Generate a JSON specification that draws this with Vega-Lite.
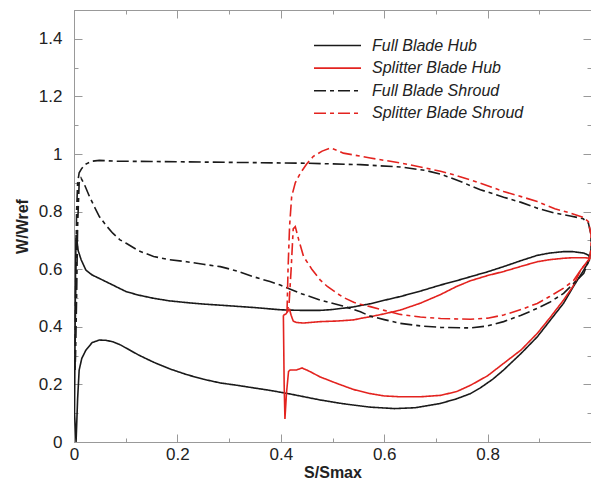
{
"$schema": "https://vega.github.io/schema/vega-lite/v6.json",
"width": 517, "height": 432,
"autosize": {"type": "none"},
"padding": {"left": 74, "top": 10, "right": 0, "bottom": 46},
"background": "white",
"config": {
  "view": {"stroke": "#999", "strokeWidth": 1},
  "axis": {"labelFont": "Liberation Sans", "labelFontSize": 17, "labelColor": "#222", "titleFont": "Liberation Sans", "titleFontSize": 16, "titleFontWeight": "bold", "titleColor": "#222", "domainColor": "#999", "tickColor": "#999", "grid": false, "format": "~g"},
  "legend": {"orient": "none", "legendX": 253, "legendY": 25, "padding": 0, "title": null, "symbolType": "M-2.5,0H2.5", "symbolSize": 353, "symbolStrokeWidth": 1.6, "labelFont": "Liberation Sans", "labelFontSize": 16, "labelFontStyle": "italic", "labelColor": "#222", "labelOffset": 24, "rowPadding": 3.6, "labelLimit": 400}
},
"data": {"values": [
{"s":"Full Blade Hub","k":1,"x":0.004,"y":0.0},
{"s":"Full Blade Hub","k":2,"x":0.007,"y":0.15},
{"s":"Full Blade Hub","k":3,"x":0.010,"y":0.25},
{"s":"Full Blade Hub","k":4,"x":0.015,"y":0.29},
{"s":"Full Blade Hub","k":5,"x":0.023,"y":0.319},
{"s":"Full Blade Hub","k":6,"x":0.035,"y":0.345},
{"s":"Full Blade Hub","k":7,"x":0.049,"y":0.354},
{"s":"Full Blade Hub","k":8,"x":0.062,"y":0.353},
{"s":"Full Blade Hub","k":9,"x":0.075,"y":0.348},
{"s":"Full Blade Hub","k":10,"x":0.089,"y":0.338},
{"s":"Full Blade Hub","k":11,"x":0.101,"y":0.326},
{"s":"Full Blade Hub","k":12,"x":0.125,"y":0.302},
{"s":"Full Blade Hub","k":13,"x":0.154,"y":0.277},
{"s":"Full Blade Hub","k":14,"x":0.185,"y":0.254},
{"s":"Full Blade Hub","k":15,"x":0.218,"y":0.234},
{"s":"Full Blade Hub","k":16,"x":0.25,"y":0.218},
{"s":"Full Blade Hub","k":17,"x":0.283,"y":0.205},
{"s":"Full Blade Hub","k":18,"x":0.315,"y":0.197},
{"s":"Full Blade Hub","k":19,"x":0.347,"y":0.188},
{"s":"Full Blade Hub","k":20,"x":0.38,"y":0.179},
{"s":"Full Blade Hub","k":21,"x":0.42,"y":0.166},
{"s":"Full Blade Hub","k":22,"x":0.476,"y":0.146},
{"s":"Full Blade Hub","k":23,"x":0.52,"y":0.133},
{"s":"Full Blade Hub","k":24,"x":0.573,"y":0.121},
{"s":"Full Blade Hub","k":25,"x":0.62,"y":0.116},
{"s":"Full Blade Hub","k":26,"x":0.66,"y":0.119},
{"s":"Full Blade Hub","k":27,"x":0.709,"y":0.134},
{"s":"Full Blade Hub","k":28,"x":0.74,"y":0.15},
{"s":"Full Blade Hub","k":29,"x":0.767,"y":0.168},
{"s":"Full Blade Hub","k":30,"x":0.786,"y":0.188},
{"s":"Full Blade Hub","k":31,"x":0.81,"y":0.218},
{"s":"Full Blade Hub","k":32,"x":0.831,"y":0.25},
{"s":"Full Blade Hub","k":33,"x":0.865,"y":0.308},
{"s":"Full Blade Hub","k":34,"x":0.896,"y":0.365},
{"s":"Full Blade Hub","k":35,"x":0.92,"y":0.42},
{"s":"Full Blade Hub","k":36,"x":0.947,"y":0.482},
{"s":"Full Blade Hub","k":37,"x":0.966,"y":0.54},
{"s":"Full Blade Hub","k":38,"x":0.986,"y":0.597},
{"s":"Full Blade Hub","k":39,"x":0.997,"y":0.632},
{"s":"Full Blade Hub","k":40,"x":0.996,"y":0.648},
{"s":"Full Blade Hub","k":41,"x":0.986,"y":0.656},
{"s":"Full Blade Hub","k":42,"x":0.965,"y":0.661},
{"s":"Full Blade Hub","k":43,"x":0.947,"y":0.661},
{"s":"Full Blade Hub","k":44,"x":0.92,"y":0.656},
{"s":"Full Blade Hub","k":45,"x":0.896,"y":0.648},
{"s":"Full Blade Hub","k":46,"x":0.865,"y":0.63},
{"s":"Full Blade Hub","k":47,"x":0.831,"y":0.609},
{"s":"Full Blade Hub","k":48,"x":0.8,"y":0.591},
{"s":"Full Blade Hub","k":49,"x":0.767,"y":0.574},
{"s":"Full Blade Hub","k":50,"x":0.74,"y":0.56},
{"s":"Full Blade Hub","k":51,"x":0.709,"y":0.545},
{"s":"Full Blade Hub","k":52,"x":0.67,"y":0.524},
{"s":"Full Blade Hub","k":53,"x":0.631,"y":0.505},
{"s":"Full Blade Hub","k":54,"x":0.6,"y":0.492},
{"s":"Full Blade Hub","k":55,"x":0.573,"y":0.48},
{"s":"Full Blade Hub","k":56,"x":0.54,"y":0.469},
{"s":"Full Blade Hub","k":57,"x":0.5,"y":0.46},
{"s":"Full Blade Hub","k":58,"x":0.476,"y":0.457},
{"s":"Full Blade Hub","k":59,"x":0.44,"y":0.457},
{"s":"Full Blade Hub","k":60,"x":0.4,"y":0.459},
{"s":"Full Blade Hub","k":61,"x":0.347,"y":0.467},
{"s":"Full Blade Hub","k":62,"x":0.3,"y":0.473},
{"s":"Full Blade Hub","k":63,"x":0.25,"y":0.479},
{"s":"Full Blade Hub","k":64,"x":0.218,"y":0.484},
{"s":"Full Blade Hub","k":65,"x":0.185,"y":0.49},
{"s":"Full Blade Hub","k":66,"x":0.154,"y":0.499},
{"s":"Full Blade Hub","k":67,"x":0.125,"y":0.51},
{"s":"Full Blade Hub","k":68,"x":0.101,"y":0.522},
{"s":"Full Blade Hub","k":69,"x":0.075,"y":0.545},
{"s":"Full Blade Hub","k":70,"x":0.049,"y":0.568},
{"s":"Full Blade Hub","k":71,"x":0.035,"y":0.58},
{"s":"Full Blade Hub","k":72,"x":0.023,"y":0.597},
{"s":"Full Blade Hub","k":73,"x":0.014,"y":0.632},
{"s":"Full Blade Hub","k":74,"x":0.008,"y":0.665},
{"s":"Full Blade Hub","k":75,"x":0.005,"y":0.71},
{"s":"Full Blade Hub","k":76,"x":0.004,"y":0.72},
{"s":"Full Blade Hub","k":77,"x":0.003,"y":0.6},
{"s":"Full Blade Hub","k":78,"x":0.002,"y":0.35},
{"s":"Full Blade Hub","k":79,"x":0.001,"y":0.1},
{"s":"Full Blade Hub","k":80,"x":0.004,"y":0.0},
{"s":"Splitter Blade Hub","k":1,"x":0.405,"y":0.44},
{"s":"Splitter Blade Hub","k":2,"x":0.4065,"y":0.2},
{"s":"Splitter Blade Hub","k":3,"x":0.408,"y":0.08},
{"s":"Splitter Blade Hub","k":4,"x":0.411,"y":0.17},
{"s":"Splitter Blade Hub","k":5,"x":0.415,"y":0.245},
{"s":"Splitter Blade Hub","k":6,"x":0.418,"y":0.25},
{"s":"Splitter Blade Hub","k":7,"x":0.43,"y":0.25},
{"s":"Splitter Blade Hub","k":8,"x":0.441,"y":0.257},
{"s":"Splitter Blade Hub","k":9,"x":0.45,"y":0.25},
{"s":"Splitter Blade Hub","k":10,"x":0.457,"y":0.244},
{"s":"Splitter Blade Hub","k":11,"x":0.476,"y":0.226},
{"s":"Splitter Blade Hub","k":12,"x":0.509,"y":0.203},
{"s":"Splitter Blade Hub","k":13,"x":0.541,"y":0.182},
{"s":"Splitter Blade Hub","k":14,"x":0.573,"y":0.168},
{"s":"Splitter Blade Hub","k":15,"x":0.6,"y":0.16},
{"s":"Splitter Blade Hub","k":16,"x":0.631,"y":0.157},
{"s":"Splitter Blade Hub","k":17,"x":0.67,"y":0.157},
{"s":"Splitter Blade Hub","k":18,"x":0.709,"y":0.162},
{"s":"Splitter Blade Hub","k":19,"x":0.74,"y":0.175},
{"s":"Splitter Blade Hub","k":20,"x":0.767,"y":0.197},
{"s":"Splitter Blade Hub","k":21,"x":0.8,"y":0.23},
{"s":"Splitter Blade Hub","k":22,"x":0.831,"y":0.273},
{"s":"Splitter Blade Hub","k":23,"x":0.865,"y":0.32},
{"s":"Splitter Blade Hub","k":24,"x":0.896,"y":0.377},
{"s":"Splitter Blade Hub","k":25,"x":0.92,"y":0.43},
{"s":"Splitter Blade Hub","k":26,"x":0.947,"y":0.493},
{"s":"Splitter Blade Hub","k":27,"x":0.965,"y":0.54},
{"s":"Splitter Blade Hub","k":28,"x":0.98,"y":0.597},
{"s":"Splitter Blade Hub","k":29,"x":0.992,"y":0.625},
{"s":"Splitter Blade Hub","k":30,"x":0.998,"y":0.638},
{"s":"Splitter Blade Hub","k":31,"x":0.986,"y":0.64},
{"s":"Splitter Blade Hub","k":32,"x":0.965,"y":0.64},
{"s":"Splitter Blade Hub","k":33,"x":0.947,"y":0.638},
{"s":"Splitter Blade Hub","k":34,"x":0.92,"y":0.633},
{"s":"Splitter Blade Hub","k":35,"x":0.896,"y":0.626},
{"s":"Splitter Blade Hub","k":36,"x":0.865,"y":0.61},
{"s":"Splitter Blade Hub","k":37,"x":0.831,"y":0.592},
{"s":"Splitter Blade Hub","k":38,"x":0.8,"y":0.578},
{"s":"Splitter Blade Hub","k":39,"x":0.767,"y":0.56},
{"s":"Splitter Blade Hub","k":40,"x":0.74,"y":0.54},
{"s":"Splitter Blade Hub","k":41,"x":0.709,"y":0.512},
{"s":"Splitter Blade Hub","k":42,"x":0.67,"y":0.482},
{"s":"Splitter Blade Hub","k":43,"x":0.631,"y":0.458},
{"s":"Splitter Blade Hub","k":44,"x":0.6,"y":0.445},
{"s":"Splitter Blade Hub","k":45,"x":0.573,"y":0.435},
{"s":"Splitter Blade Hub","k":46,"x":0.554,"y":0.429},
{"s":"Splitter Blade Hub","k":47,"x":0.541,"y":0.424},
{"s":"Splitter Blade Hub","k":48,"x":0.509,"y":0.42},
{"s":"Splitter Blade Hub","k":49,"x":0.476,"y":0.418},
{"s":"Splitter Blade Hub","k":50,"x":0.444,"y":0.413},
{"s":"Splitter Blade Hub","k":51,"x":0.43,"y":0.415},
{"s":"Splitter Blade Hub","k":52,"x":0.424,"y":0.42},
{"s":"Splitter Blade Hub","k":53,"x":0.42,"y":0.44},
{"s":"Splitter Blade Hub","k":54,"x":0.417,"y":0.46},
{"s":"Splitter Blade Hub","k":55,"x":0.414,"y":0.455},
{"s":"Splitter Blade Hub","k":56,"x":0.41,"y":0.445},
{"s":"Splitter Blade Hub","k":57,"x":0.405,"y":0.44},
{"s":"Full Blade Shroud","k":1,"x":0.002,"y":0.25},
{"s":"Full Blade Shroud","k":2,"x":0.003,"y":0.5},
{"s":"Full Blade Shroud","k":3,"x":0.005,"y":0.8},
{"s":"Full Blade Shroud","k":4,"x":0.007,"y":0.9},
{"s":"Full Blade Shroud","k":5,"x":0.01,"y":0.935},
{"s":"Full Blade Shroud","k":6,"x":0.015,"y":0.95},
{"s":"Full Blade Shroud","k":7,"x":0.023,"y":0.965},
{"s":"Full Blade Shroud","k":8,"x":0.035,"y":0.975},
{"s":"Full Blade Shroud","k":9,"x":0.049,"y":0.978},
{"s":"Full Blade Shroud","k":10,"x":0.08,"y":0.975},
{"s":"Full Blade Shroud","k":11,"x":0.15,"y":0.974},
{"s":"Full Blade Shroud","k":12,"x":0.25,"y":0.972},
{"s":"Full Blade Shroud","k":13,"x":0.35,"y":0.97},
{"s":"Full Blade Shroud","k":14,"x":0.45,"y":0.968},
{"s":"Full Blade Shroud","k":15,"x":0.554,"y":0.963},
{"s":"Full Blade Shroud","k":16,"x":0.631,"y":0.955},
{"s":"Full Blade Shroud","k":17,"x":0.68,"y":0.943},
{"s":"Full Blade Shroud","k":18,"x":0.709,"y":0.93},
{"s":"Full Blade Shroud","k":19,"x":0.74,"y":0.91},
{"s":"Full Blade Shroud","k":20,"x":0.767,"y":0.89},
{"s":"Full Blade Shroud","k":21,"x":0.786,"y":0.876},
{"s":"Full Blade Shroud","k":22,"x":0.831,"y":0.85},
{"s":"Full Blade Shroud","k":23,"x":0.865,"y":0.832},
{"s":"Full Blade Shroud","k":24,"x":0.896,"y":0.812},
{"s":"Full Blade Shroud","k":25,"x":0.93,"y":0.795},
{"s":"Full Blade Shroud","k":26,"x":0.96,"y":0.785},
{"s":"Full Blade Shroud","k":27,"x":0.985,"y":0.775},
{"s":"Full Blade Shroud","k":28,"x":0.995,"y":0.76},
{"s":"Full Blade Shroud","k":29,"x":1.0,"y":0.72},
{"s":"Full Blade Shroud","k":30,"x":1.0,"y":0.67},
{"s":"Full Blade Shroud","k":31,"x":0.997,"y":0.635},
{"s":"Full Blade Shroud","k":32,"x":0.986,"y":0.586},
{"s":"Full Blade Shroud","k":33,"x":0.966,"y":0.55},
{"s":"Full Blade Shroud","k":34,"x":0.947,"y":0.516},
{"s":"Full Blade Shroud","k":35,"x":0.92,"y":0.485},
{"s":"Full Blade Shroud","k":36,"x":0.896,"y":0.464},
{"s":"Full Blade Shroud","k":37,"x":0.865,"y":0.44},
{"s":"Full Blade Shroud","k":38,"x":0.831,"y":0.418},
{"s":"Full Blade Shroud","k":39,"x":0.8,"y":0.403},
{"s":"Full Blade Shroud","k":40,"x":0.767,"y":0.396},
{"s":"Full Blade Shroud","k":41,"x":0.709,"y":0.398},
{"s":"Full Blade Shroud","k":42,"x":0.67,"y":0.403},
{"s":"Full Blade Shroud","k":43,"x":0.631,"y":0.412},
{"s":"Full Blade Shroud","k":44,"x":0.6,"y":0.425},
{"s":"Full Blade Shroud","k":45,"x":0.573,"y":0.437},
{"s":"Full Blade Shroud","k":46,"x":0.554,"y":0.452},
{"s":"Full Blade Shroud","k":47,"x":0.52,"y":0.472},
{"s":"Full Blade Shroud","k":48,"x":0.476,"y":0.493},
{"s":"Full Blade Shroud","k":49,"x":0.44,"y":0.515},
{"s":"Full Blade Shroud","k":50,"x":0.399,"y":0.545},
{"s":"Full Blade Shroud","k":51,"x":0.379,"y":0.557},
{"s":"Full Blade Shroud","k":52,"x":0.347,"y":0.574},
{"s":"Full Blade Shroud","k":53,"x":0.315,"y":0.594},
{"s":"Full Blade Shroud","k":54,"x":0.283,"y":0.609},
{"s":"Full Blade Shroud","k":55,"x":0.25,"y":0.617},
{"s":"Full Blade Shroud","k":56,"x":0.218,"y":0.626},
{"s":"Full Blade Shroud","k":57,"x":0.185,"y":0.633},
{"s":"Full Blade Shroud","k":58,"x":0.154,"y":0.644},
{"s":"Full Blade Shroud","k":59,"x":0.125,"y":0.664},
{"s":"Full Blade Shroud","k":60,"x":0.101,"y":0.69},
{"s":"Full Blade Shroud","k":61,"x":0.089,"y":0.702},
{"s":"Full Blade Shroud","k":62,"x":0.075,"y":0.725},
{"s":"Full Blade Shroud","k":63,"x":0.062,"y":0.752},
{"s":"Full Blade Shroud","k":64,"x":0.049,"y":0.783},
{"s":"Full Blade Shroud","k":65,"x":0.04,"y":0.815},
{"s":"Full Blade Shroud","k":66,"x":0.03,"y":0.852},
{"s":"Full Blade Shroud","k":67,"x":0.02,"y":0.895},
{"s":"Full Blade Shroud","k":68,"x":0.0136,"y":0.916},
{"s":"Full Blade Shroud","k":69,"x":0.01,"y":0.9},
{"s":"Full Blade Shroud","k":70,"x":0.007,"y":0.75},
{"s":"Full Blade Shroud","k":71,"x":0.005,"y":0.5},
{"s":"Full Blade Shroud","k":72,"x":0.003,"y":0.3},
{"s":"Full Blade Shroud","k":73,"x":0.002,"y":0.25},
{"s":"Splitter Blade Shroud","k":1,"x":0.412,"y":0.45},
{"s":"Splitter Blade Shroud","k":2,"x":0.414,"y":0.6},
{"s":"Splitter Blade Shroud","k":3,"x":0.417,"y":0.75},
{"s":"Splitter Blade Shroud","k":4,"x":0.421,"y":0.852},
{"s":"Splitter Blade Shroud","k":5,"x":0.428,"y":0.9},
{"s":"Splitter Blade Shroud","k":6,"x":0.438,"y":0.934},
{"s":"Splitter Blade Shroud","k":7,"x":0.45,"y":0.965},
{"s":"Splitter Blade Shroud","k":8,"x":0.463,"y":0.992},
{"s":"Splitter Blade Shroud","k":9,"x":0.48,"y":1.01},
{"s":"Splitter Blade Shroud","k":10,"x":0.496,"y":1.021},
{"s":"Splitter Blade Shroud","k":11,"x":0.51,"y":1.012},
{"s":"Splitter Blade Shroud","k":12,"x":0.521,"y":1.003},
{"s":"Splitter Blade Shroud","k":13,"x":0.54,"y":0.997},
{"s":"Splitter Blade Shroud","k":14,"x":0.573,"y":0.986},
{"s":"Splitter Blade Shroud","k":15,"x":0.6,"y":0.978},
{"s":"Splitter Blade Shroud","k":16,"x":0.631,"y":0.969},
{"s":"Splitter Blade Shroud","k":17,"x":0.67,"y":0.955},
{"s":"Splitter Blade Shroud","k":18,"x":0.709,"y":0.94},
{"s":"Splitter Blade Shroud","k":19,"x":0.74,"y":0.925},
{"s":"Splitter Blade Shroud","k":20,"x":0.767,"y":0.91},
{"s":"Splitter Blade Shroud","k":21,"x":0.786,"y":0.899},
{"s":"Splitter Blade Shroud","k":22,"x":0.831,"y":0.87},
{"s":"Splitter Blade Shroud","k":23,"x":0.865,"y":0.852},
{"s":"Splitter Blade Shroud","k":24,"x":0.896,"y":0.835},
{"s":"Splitter Blade Shroud","k":25,"x":0.93,"y":0.81},
{"s":"Splitter Blade Shroud","k":26,"x":0.96,"y":0.795},
{"s":"Splitter Blade Shroud","k":27,"x":0.985,"y":0.78},
{"s":"Splitter Blade Shroud","k":28,"x":0.995,"y":0.765},
{"s":"Splitter Blade Shroud","k":29,"x":1.0,"y":0.72},
{"s":"Splitter Blade Shroud","k":30,"x":1.0,"y":0.67},
{"s":"Splitter Blade Shroud","k":31,"x":0.997,"y":0.635},
{"s":"Splitter Blade Shroud","k":32,"x":0.98,"y":0.597},
{"s":"Splitter Blade Shroud","k":33,"x":0.966,"y":0.56},
{"s":"Splitter Blade Shroud","k":34,"x":0.947,"y":0.534},
{"s":"Splitter Blade Shroud","k":35,"x":0.92,"y":0.505},
{"s":"Splitter Blade Shroud","k":36,"x":0.896,"y":0.481},
{"s":"Splitter Blade Shroud","k":37,"x":0.865,"y":0.46},
{"s":"Splitter Blade Shroud","k":38,"x":0.831,"y":0.441},
{"s":"Splitter Blade Shroud","k":39,"x":0.8,"y":0.43},
{"s":"Splitter Blade Shroud","k":40,"x":0.767,"y":0.426},
{"s":"Splitter Blade Shroud","k":41,"x":0.709,"y":0.429},
{"s":"Splitter Blade Shroud","k":42,"x":0.67,"y":0.434},
{"s":"Splitter Blade Shroud","k":43,"x":0.631,"y":0.443},
{"s":"Splitter Blade Shroud","k":44,"x":0.6,"y":0.457},
{"s":"Splitter Blade Shroud","k":45,"x":0.573,"y":0.47},
{"s":"Splitter Blade Shroud","k":46,"x":0.554,"y":0.478},
{"s":"Splitter Blade Shroud","k":47,"x":0.541,"y":0.485},
{"s":"Splitter Blade Shroud","k":48,"x":0.52,"y":0.503},
{"s":"Splitter Blade Shroud","k":49,"x":0.509,"y":0.516},
{"s":"Splitter Blade Shroud","k":50,"x":0.49,"y":0.54},
{"s":"Splitter Blade Shroud","k":51,"x":0.476,"y":0.563},
{"s":"Splitter Blade Shroud","k":52,"x":0.46,"y":0.6},
{"s":"Splitter Blade Shroud","k":53,"x":0.444,"y":0.644},
{"s":"Splitter Blade Shroud","k":54,"x":0.435,"y":0.7},
{"s":"Splitter Blade Shroud","k":55,"x":0.428,"y":0.748},
{"s":"Splitter Blade Shroud","k":56,"x":0.424,"y":0.74},
{"s":"Splitter Blade Shroud","k":57,"x":0.42,"y":0.6},
{"s":"Splitter Blade Shroud","k":58,"x":0.416,"y":0.48},
{"s":"Splitter Blade Shroud","k":59,"x":0.412,"y":0.45}
]},
"layer": [
  {
    "mark": {"type": "line", "strokeWidth": 1.6, "clip": true},
    "encoding": {
      "x": {"field": "x", "type": "quantitative", "scale": {"domain": [0, 1], "nice": false, "zero": false},
            "axis": {"orient": "bottom", "title": "S/Smax", "values": [0,0.1,0.2,0.3,0.4,0.5,0.6,0.7,0.8,0.9],
                     "labelExpr": "round(datum.value*10) % 2 == 0 ? datum.label : ''",
                     "tickSize": {"condition": {"test": "round(datum.value*10) % 2 == 0", "value": -8}, "value": -4},
                     "labelPadding": 12, "titlePadding": 2, "domain": true, "labelFlush": false}},
      "y": {"field": "y", "type": "quantitative", "scale": {"domain": [0, 1.5], "nice": false},
            "axis": {"orient": "left", "title": "W/Wref", "values": [0,0.1,0.2,0.3,0.4,0.5,0.6,0.7,0.8,0.9,1,1.1,1.2,1.3,1.4],
                     "labelExpr": "round(datum.value*10) % 2 == 0 ? datum.label : ''",
                     "tickSize": {"condition": {"test": "round(datum.value*10) % 2 == 0", "value": -8}, "value": -4},
                     "labelPadding": 20, "titlePadding": 8, "labelFlush": false}},
      "order": {"field": "k", "type": "quantitative"},
      "color": {"field": "s", "type": "nominal",
                "scale": {"domain": ["Full Blade Hub", "Splitter Blade Hub", "Full Blade Shroud", "Splitter Blade Shroud"],
                          "range": ["#1a1a1a", "#e3231f", "#1a1a1a", "#e3231f"]}},
      "strokeDash": {"field": "s", "type": "nominal",
                "scale": {"domain": ["Full Blade Hub", "Splitter Blade Hub", "Full Blade Shroud", "Splitter Blade Shroud"],
                          "range": [[1, 0], [1, 0], [12, 4, 4, 4], [12, 4, 4, 4]]}}
    }
  },
  {
    "mark": {"type": "line", "opacity": 0},
    "encoding": {
      "x": {"field": "x", "type": "quantitative",
            "axis": {"orient": "top", "title": null, "labels": false, "values": [0,0.1,0.2,0.3,0.4,0.5,0.6,0.7,0.8,0.9],
                     "tickSize": {"condition": {"test": "round(datum.value*10) % 2 == 0", "value": -8}, "value": -4}}},
      "y": {"field": "y", "type": "quantitative",
            "axis": {"orient": "right", "title": null, "labels": false, "values": [0,0.1,0.2,0.3,0.4,0.5,0.6,0.7,0.8,0.9,1,1.1,1.2,1.3,1.4],
                     "tickSize": {"condition": {"test": "round(datum.value*10) % 2 == 0", "value": -8}, "value": -4}}},
      "order": {"field": "k", "type": "quantitative"},
      "detail": {"field": "s", "type": "nominal"}
    }
  }
],
"resolve": {"axis": {"x": "independent", "y": "independent"}}
}
